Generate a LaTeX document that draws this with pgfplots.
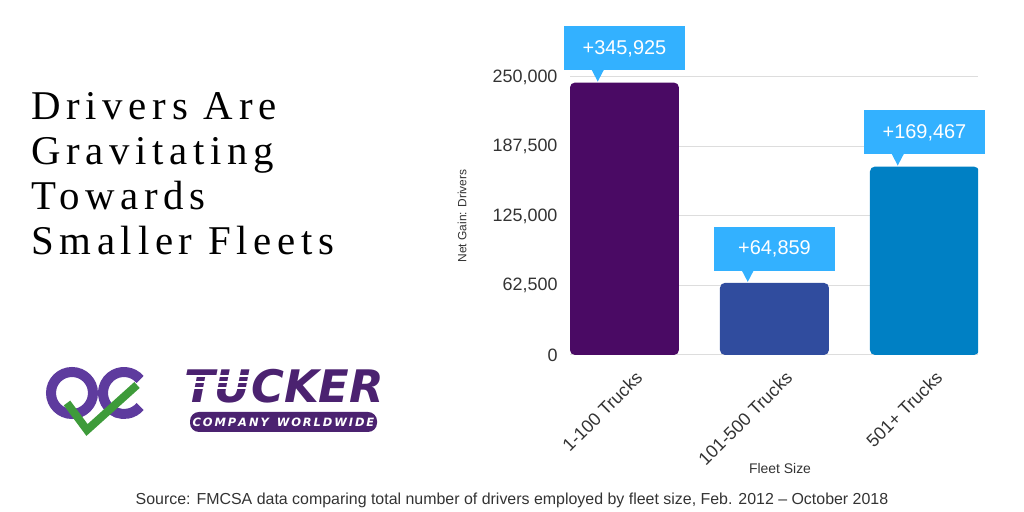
\documentclass[border=0pt]{standalone}
\usepackage{pgfplots}
\pgfplotsset{compat=1.18}
\usepackage{fontspec}
\setmainfont{Liberation Sans}
\newfontfamily\titlefont[LetterSpace=14]{Liberation Serif}
\newfontfamily\logofont{DejaVu Sans}

\definecolor{barA}{HTML}{4A0A64}
\definecolor{barB}{HTML}{304C9E}
\definecolor{barC}{HTML}{0080C4}
\definecolor{callout}{HTML}{33B1FF}
\definecolor{gridgray}{HTML}{DDDDDD}
\definecolor{ticktext}{HTML}{333333}
\definecolor{qcpurple}{HTML}{5E3B9E}
\definecolor{qcgreen}{HTML}{3E9B3A}
\definecolor{tpurple}{HTML}{4B2270}

\begin{document}
\begin{tikzpicture}[x=1bp,y=1bp]
\useasboundingbox (0,0) rectangle (1024,512);
\coordinate (axpos) at (570,157);

% title
\foreach \txt/\yy in {Drivers Are/392, Gravitating/347, Towards/302, Smaller Fleets/257}
  \node[anchor=base west, inner sep=0pt, font=\titlefont\fontsize{41}{45}\selectfont] at (31,\yy) {\txt};

% QC logo
\draw[qcpurple, line width=10bp] (72,119) circle (21);
\draw[qcpurple, line width=10bp] (124,119) ++(40:21) arc (40:320:21);
\draw[qcgreen, line width=8bp, line join=miter] (67,109) -- (87,82) -- (137,127);

% Tucker logo
\node[anchor=base west, inner sep=0pt, text=tpurple, font=\logofont\bfseries\itshape\fontsize{45}{45}\selectfont] at (184,109) {TUCKER};
\foreach \yy in {124,130,136} \draw[white, line width=1.5bp] (184,\yy) -- (250,\yy);
\fill[tpurple, rounded corners=9bp] (190,80) rectangle (377,100);
\node[text=white, font=\logofont\bfseries\itshape\fontsize{11.5}{12}\selectfont] at (283.5,90) {C\,O\,M\,P\,A\,N\,Y\ \ W\,O\,R\,L\,D\,W\,I\,D\,E};

\begin{axis}[
  at={(axpos)}, anchor=south west,
  scale only axis, width=408bp, height=278bp,
  xmin=-0.363, xmax=2.357,
  ymin=0, ymax=250000,
  ybar, bar width=109bp,
  axis line style={draw=none},
  major tick length=0pt,
  ymajorgrids, grid style={gridgray, line width=1bp},
  ytick={0,62500,125000,187500,250000},
  scaled y ticks=false,
  /pgf/number format/fixed,
  /pgf/number format/1000 sep={,},
  /pgf/number format/assume math mode=true,
  ticklabel style={text=ticktext, font=\fontsize{18}{20}\selectfont},
  yticklabel style={xshift=-9bp},
  xtick={0,1,2},
  xticklabels={1-100 Trucks,101-500 Trucks,501+ Trucks},
  xticklabel style={xshift=17bp, yshift=-17bp, rotate=45, anchor=east},
  ylabel={Net Gain: Drivers},
  xlabel={Fleet Size},
  every axis y label/.style={at={(rel axis cs:0,0.5)}, xshift=-108bp, rotate=90, anchor=center, font=\fontsize{12}{14}\selectfont, text=ticktext},
  every axis x label/.style={at={(rel axis cs:0.5,0)}, xshift=6bp, yshift=-114bp, anchor=center, font=\fontsize{14}{16}\selectfont, text=ticktext},
  point meta=explicit symbolic,
  nodes near coords,
  every node near coord/.append style={rectangle, sharp corners, fill=callout, text=white,
    font=\fontsize{20}{22}\selectfont, minimum width=121bp, minimum height=44bp, inner sep=0pt,
    anchor=south, yshift=12bp,
    append after command={\pgfextra{\fill[callout, sharp corners]
      ([xshift=28bp,yshift=0.5bp]\tikzlastnode.south west) --
      ([xshift=40bp,yshift=0.5bp]\tikzlastnode.south west) --
      ([xshift=34bp,yshift=-11bp]\tikzlastnode.south west) -- cycle;}}},
]
\addplot[bar shift=0pt, fill=barA, draw=none, rounded corners=5bp] coordinates {(0,245000) [{+345,925}]};
\addplot[bar shift=0pt, fill=barB, draw=none, rounded corners=5bp] coordinates {(1,64859) [{+64,859}]};
\addplot[bar shift=0pt, fill=barC, draw=none, rounded corners=5bp] coordinates {(2,169467) [{+169,467}]};
\end{axis}

\node[font=\fontsize{16}{18}\selectfont, text=ticktext] at (512,12) {Source: FMCSA data comparing total number of drivers employed by fleet size, Feb. 2012 -- October 2018};
\end{tikzpicture}
\end{document}
